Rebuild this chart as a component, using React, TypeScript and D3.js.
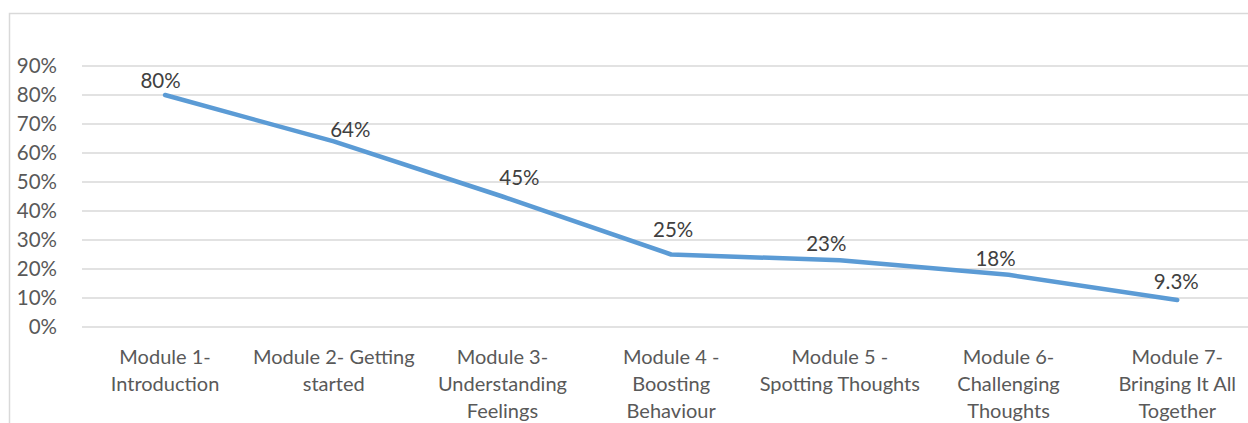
import React from "react";
import * as d3 from "d3";

const categories: string[] = [
  "Module 1-\nIntroduction",
  "Module 2- Getting\nstarted",
  "Module 3-\nUnderstanding\nFeelings",
  "Module 4 -\nBoosting\nBehaviour",
  "Module 5 -\nSpotting Thoughts",
  "Module 6-\nChallenging\nThoughts",
  "Module 7-\nBringing It All\nTogether",
];
const values: number[] = [0.8, 0.64, 0.45, 0.25, 0.23, 0.18, 0.093];
const valueLabels: string[] = ["80%", "64%", "45%", "25%", "23%", "18%", "9.3%"];
const yTicks: number[] = [0, 0.1, 0.2, 0.3, 0.4, 0.5, 0.6, 0.7, 0.8, 0.9];
// data label placement nudges (layout, px)
const labelDx: number[] = [-4.5, 16.5, 17, 2, -13.5, -13, -1];
const labelDy: number[] = [-7.5, -4, -11.5, -18, -9, -9, -11.5];

const W = 1248;
const H = 423;
const FONT = "Lato, 'Open Sans', sans-serif";

export default function App() {
  const x = d3
    .scaleBand<string>()
    .domain(categories)
    .range([80.7, 80.7 + 7 * 168.7]);
  const y = d3.scaleLinear().domain([0, 0.9]).range([327, 66]);
  const cx = (c: string) => (x(c) ?? 0) + x.bandwidth() / 2;
  const line = d3
    .line<number>()
    .x((_, i) => cx(categories[i]))
    .y((d) => y(d));
  const pct = d3.format(".0%");

  return (
    <svg
      width={W}
      height={H}
      style={{ position: "absolute", left: 0, top: 0, background: "#fff" }}
      fontFamily={FONT}
    >
      <rect x={9.5} y={13.5} width={W + 20} height={H + 20} fill="#fff" stroke="#d9d9d9" strokeWidth={1.5} />
      {yTicks.map((t) => (
        <g key={t}>
          <line x1={82} x2={W} y1={y(t)} y2={y(t)} stroke="#d9d9d9" strokeWidth={1.5} />
          <text x={57} y={y(t)} dy="0.36em" textAnchor="end" fontSize={20.5} fill="#595959">
            {pct(t)}
          </text>
        </g>
      ))}
      <path
        d={line(values) ?? ""}
        fill="none"
        stroke="#5b9bd5"
        strokeWidth={4.5}
        strokeLinecap="round"
        strokeLinejoin="round"
      />
      {values.map((v, i) => (
        <text
          key={i}
          x={cx(categories[i]) + labelDx[i]}
          y={y(v) + labelDy[i]}
          textAnchor="middle"
          fontSize={20.5}
          fill="#404040"
        >
          {valueLabels[i]}
        </text>
      ))}
      {categories.map((c) => (
        <text key={c} x={cx(c)} y={357} textAnchor="middle" fontSize={20} fill="#595959">
          {c.split("\n").map((ln, j) => (
            <tspan key={j} x={cx(c)} y={357 + j * 27} dy="0.36em">
              {ln}
            </tspan>
          ))}
        </text>
      ))}
    </svg>
  );
}
